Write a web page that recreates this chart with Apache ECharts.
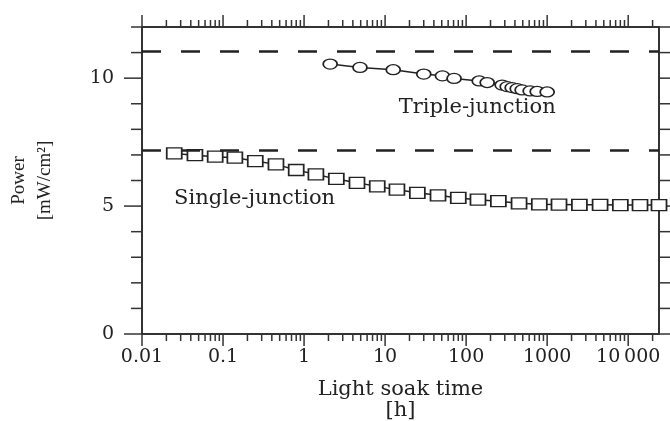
<!DOCTYPE html>
<html>
<head>
<meta charset="utf-8">
<script src="https://cdn.jsdelivr.net/npm/echarts@6/dist/echarts.min.js"></script>
<style>
	html, body { margin: 0; background: #fff; }
	#chart { width: 670px; height: 421px; }
</style>
</head>
<body>
<div id="chart"></div>
<script>
// single-junction cell
let single_x = [0.025, 0.045, 0.08, 0.14, 0.25, 0.45, 0.8, 1.4, 2.5, 4.5, 8, 14, 25, 45, 80, 140, 250, 450, 800, 1400, 2500, 4500, 8000, 14000, 24000];
let single_y = [7.06, 6.99, 6.93, 6.89, 6.76, 6.63, 6.41, 6.24, 6.06, 5.91, 5.77, 5.64, 5.52, 5.42, 5.32, 5.25, 5.19, 5.11, 5.07, 5.06, 5.05, 5.05, 5.04, 5.04, 5.04];
// triple-junction cell
let triple_x = [2.1, 4.9, 12.6, 30, 51, 71, 145, 182, 278, 321, 370, 427, 491, 617, 753, 1000];
let triple_y = [10.55, 10.42, 10.33, 10.16, 10.09, 9.99, 9.89, 9.83, 9.73, 9.67, 9.63, 9.59, 9.54, 9.5, 9.48, 9.46];
// initial power levels (dashed)
let ref_levels = [11.05, 7.17];
// axes
let x_min = 0.01;
let x_max = 24000;
let x_decades = [0.01, 0.1, 1, 10, 100, 1000, 10000];
let x_labels = ['0.01', '0.1', '1', '10', '100', '1000', '10\u2009000'];
let minor_steps = [2, 3, 4, 5, 6, 7, 8, 9];
let y_min = 0;
let y_max = 12;
let y_major = [0, 5, 10];
// text notes
let note_text = ['Triple-junction', 'Single-junction'];
let note_x = [137, 0.245];
let note_y = [8.86, 5.29];

let font = '"DejaVu Serif", serif';
let ink = '#222';

let x_ticks = [];
for (let d of x_decades) {
	x_ticks.push([d, 1]);
	for (let m of minor_steps) {
		if (d * m <= x_max) x_ticks.push([d * m, 0]);
	}
}
let y_ticks = [];
for (let v = y_min; v <= y_max; v++) {
	y_ticks.push([x_min, v, y_major.indexOf(v) > -1 ? 1 : 0]);
}

let chart = echarts.init(document.getElementById('chart'));
let option = {
	animation: false,
	backgroundColor: '#fff',
	grid: {
		left: 142,
		right: 11,
		top: 27,
		bottom: 87,
		outerBoundsMode: 'none',
		containLabel: false,
		show: true,
		borderColor: '#333',
		borderWidth: 2,
	},
	xAxis: {
		type: 'log',
		logBase: 10,
		min: x_min,
		max: x_max,
		axisLine: { show: false },
		axisTick: { show: false },
		splitLine: { show: false },
		axisLabel: {
			margin: 14,
			color: ink,
			fontFamily: font,
			fontSize: 19,
			formatter(v) {
				let i = x_decades.findIndex((d) => Math.abs(Math.log10(v / d)) < 1e-6);
				return i < 0 ? '' : x_labels[i];
			},
		},
		name: 'Light soak time\n[h]',
		nameLocation: 'middle',
		nameGap: 45,
		nameTextStyle: { color: ink, fontFamily: font, fontSize: 21, lineHeight: 21 },
	},
	yAxis: {
		type: 'value',
		min: y_min,
		max: y_max,
		interval: 1,
		axisLine: { show: false },
		axisTick: { show: false },
		splitLine: { show: false },
		axisLabel: {
			margin: 28,
			color: ink,
			fontFamily: font,
			fontSize: 19,
			formatter(v) {
				return y_major.indexOf(v) > -1 ? String(v) : '';
			},
		},
		name: 'Power\n[mW/cm\u00b2]',
		nameLocation: 'middle',
		nameGap: 84,
		nameTextStyle: { color: ink, fontFamily: '"Liberation Serif", serif', fontSize: 19, lineHeight: 26 },
	},
	series: [
		// x ticks, bottom and top, pointing out
		{
			type: 'custom',
			silent: true,
			data: x_ticks,
			encode: { x: 0, y: 1 },
			renderItem(params, api) {
				let v = api.value(0);
				let len = api.value(1) ? 12 : 7;
				let b = api.coord([v, y_min]);
				let t = api.coord([v, y_max]);
				let st = { stroke: '#333', lineWidth: 1.5 };
				return {
					type: 'group',
					children: [
						{ type: 'line', shape: { x1: b[0], y1: b[1], x2: b[0], y2: b[1] + len }, style: st },
						{ type: 'line', shape: { x1: t[0], y1: t[1], x2: t[0], y2: t[1] - len }, style: st },
					],
				};
			},
		},
		// y ticks, left and right, pointing out
		{
			type: 'custom',
			silent: true,
			data: y_ticks,
			encode: { x: 0, y: 1 },
			renderItem(params, api) {
				let v = api.value(1);
				let len = api.value(2) ? 18 : 11;
				let l = api.coord([x_min, v]);
				let r = api.coord([x_max, v]);
				let st = { stroke: '#333', lineWidth: 1.5 };
				return {
					type: 'group',
					children: [
						{ type: 'line', shape: { x1: l[0], y1: l[1], x2: l[0] - len, y2: l[1] }, style: st },
						{ type: 'line', shape: { x1: r[0], y1: r[1], x2: r[0] + len, y2: r[1] }, style: st },
					],
				};
			},
		},
		{
			name: 'Single-junction',
			type: 'line',
			data: single_x.map((x, i) => [x, single_y[i]]),
			symbol: 'rect',
			symbolSize: [15, 11],
			showAllSymbol: true,
			lineStyle: { color: ink, width: 1.5 },
			itemStyle: { color: '#fff', borderColor: ink, borderWidth: 1.5 },
			z: 3,
			markLine: {
				silent: true,
				symbol: 'none',
				label: { show: false },
				lineStyle: { color: ink, width: 2.5, type: [19, 20] },
				data: ref_levels.map((v) => ({ yAxis: v })),
			},
		},
		{
			name: 'Triple-junction',
			type: 'line',
			data: triple_x.map((x, i) => [x, triple_y[i]]),
			symbol: 'circle',
			symbolSize: [14, 10],
			showAllSymbol: true,
			lineStyle: { color: ink, width: 1.5 },
			itemStyle: { color: '#fff', borderColor: ink, borderWidth: 1.5 },
			z: 3,
		},
		// labels inside the plot
		{
			type: 'custom',
			silent: true,
			data: note_x.map((x, i) => [x, note_y[i], i]),
			encode: { x: 0, y: 1 },
			renderItem(params, api) {
				let p = api.coord([api.value(0), api.value(1)]);
				return {
					type: 'text',
					x: p[0],
					y: p[1],
					style: {
						text: note_text[api.value(2)],
						fontFamily: font,
						fontSize: 21,
						fill: ink,
						align: 'center',
						verticalAlign: 'middle',
					},
				};
			},
		},
	],
};
chart.setOption(option);
</script>
</body>
</html>
